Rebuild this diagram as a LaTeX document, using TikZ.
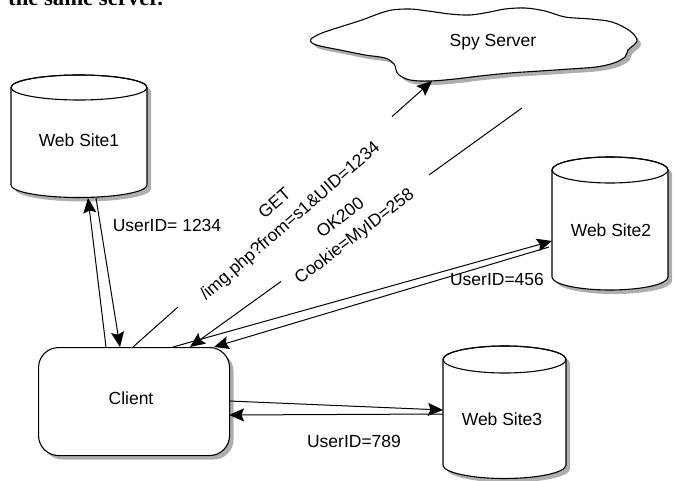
\documentclass[tikz,border=0pt]{standalone}
\usepackage{fontspec}
\setmainfont{Liberation Sans}
\newfontfamily\serifbody{Liberation Serif}
\usetikzlibrary{shadows,arrows.meta,calc}
\newcommand\mycyl[6]{% L R rx yt yb ry
  \path[shp] (#1,#4) -- (#1,#5) arc[start angle=180,end angle=360,x radius=#3pt,y radius=#6pt]
     -- (#2,#4) arc[start angle=0,end angle=180,x radius=#3pt,y radius=#6pt] -- cycle;
  \draw[outl] ({(#1+#2)/2},#4) ellipse[x radius=#3pt,y radius=#6pt];
}
\begin{document}
\begin{tikzpicture}[x=1pt,y=-1pt,
  lbl/.style={font=\fontsize{17.5}{23}\selectfont, inner sep=0pt},
  outl/.style={draw=black, line width=1.1pt},
  shp/.style={outl, fill=white, drop shadow={shadow xshift=4pt, shadow yshift=-4pt, fill=black!45, opacity=0.7}},
  conn/.style={line width=1pt},
  arr/.style={conn, -{Stealth[length=15pt,width=13pt,inset=2.5pt]}},
]
\useasboundingbox (0,0) rectangle (674,481);
\clip (0,0) rectangle (674,481);
\fill[white] (0,0) rectangle (674,481);

% cut-off caption at top
\node[anchor=base west, inner sep=0pt, font=\serifbody\bfseries\fontsize{22.7}{27}\selectfont] (toptext) at (8,5.5) {the same server.};

% Spy Server cloud
\path[shp] plot[smooth cycle, tension=0.55] coordinates {
 (311,39) (322,33) (340,27) (362,20) (378,14) (392,10) (410,9) (428,11) (450,14)
 (470,15) (490,12) (505,9) (525,8) (545,11) (565,17) (590,19) (612,22) (630,31)
 (637,41) (628,50) (625,57) (614,63) (596,67) (570,69) (540,71) (510,73) (480,76)
 (455,79) (430,81) (410,80) (398,74) (394,64) (385,58) (365,55) (340,50) (320,46) (312,43)};
\node[lbl] (spy) at (493,42) {Spy Server};

% cylinders
\mycyl{11}{147}{68}{87.5}{185}{12.5}
\node[lbl] (ws1) at (79,140) {Web Site1};
\mycyl{552}{668}{58}{170}{277}{13}
\node[lbl] (ws2) at (611,230) {Web Site2};
\mycyl{443}{566}{61.5}{359.5}{465}{13.5}
\node[lbl] (ws3) at (502,419) {Web Site3};

% client
\node[shp, rounded corners=20pt, minimum width=191pt, minimum height=108pt, anchor=north west] (client) at (38,347) {};
\node[lbl] (clientlbl) at (131,398) {Client};

% connector end points
\coordinate (c1) at (106,347); \coordinate (w1a) at (88,198);
\coordinate (w1b) at (96,198); \coordinate (c2) at (120,347);
\coordinate (c3) at (133,347); \coordinate (s1) at (432,81);
\coordinate (s2) at (522,108); \coordinate (c4) at (190,347);
\coordinate (c5) at (173,347); \coordinate (w2a) at (552,241);
\coordinate (w2b) at (549,247); \coordinate (c6) at (214,347);
\coordinate (c7) at (229,401); \coordinate (w3a) at (443,410);
\coordinate (w3b) at (443,414); \coordinate (c8) at (229,415);

% Web Site1
\draw[arr] (c1) -- (w1a);
\draw[arr] (w1b) -- (c2);
\node[lbl] (u1) at (167,225) {UserID= 1234};

% Spy server
\draw[conn] (c3) -- ($(c3)!0.15!(s1)$);
\draw[arr] ($(c3)!0.866!(s1)$) -- (s1);
\draw[conn] (s2) -- ($(s2)!0.28!(c4)$);
\draw[arr] ($(s2)!0.726!(c4)$) -- (c4);
\node[lbl, rotate=41, align=center] (getlbl) at (283,213) {GET\\/img.php?from=s1\&UID=1234};
\node[lbl, rotate=37.5, align=center] (oklbl) at (348,228) {OK200\\Cookie=MyID=258};

% Web Site2
\draw[arr] (c5) -- (w2a);
\draw[arr] (w2b) -- (c6);
\node[lbl] (u2) at (497,279) {UserID=456};

% Web Site3
\draw[arr] (c7) -- (w3a);
\draw[arr] (w3b) -- (c8);
\node[lbl] (u3) at (354,441) {UserID=789};
\end{tikzpicture}
\end{document}
